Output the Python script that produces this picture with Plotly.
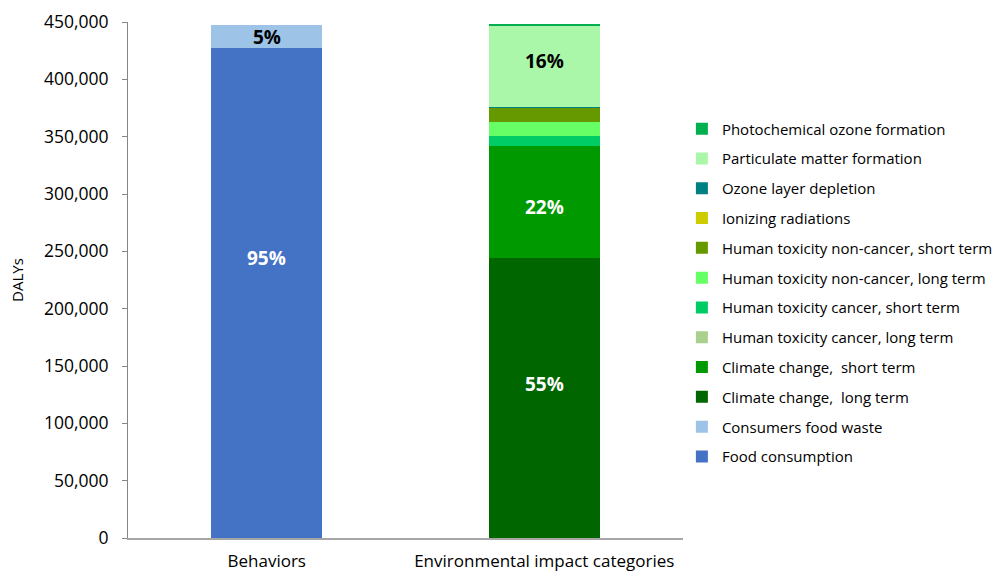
import plotly.graph_objects as go

categories = ["Behaviors", "Environmental impact categories"]

series_names = [
    "Food consumption",
    "Consumers food waste",
    "Climate change,  long term",
    "Climate change,  short term",
    "Human toxicity cancer, long term",
    "Human toxicity cancer, short term",
    "Human toxicity non-cancer, long term",
    "Human toxicity non-cancer, short term",
    "Ionizing radiations",
    "Ozone layer depletion",
    "Particulate matter formation",
    "Photochemical ozone formation",
]
series_category = [0, 0, 1, 1, 1, 1, 1, 1, 1, 1, 1, 1]
series_values = [427000, 20300, 244000, 98000, 150, 8700, 12200, 12200, 150, 800, 70500, 1000]
series_labels = ["95%", "5%", "55%", "22%", "", "", "", "", "", "", "16%", ""]
label_colors = ["white", "black", "white", "white", "white", "white", "white", "white", "white", "white", "black", "white"]
series_colors = ["#4472C4", "#9DC3E6", "#006600", "#009900", "#A9D08E", "#00CC66",
                 "#66FF66", "#669900", "#CCCC00", "#008080", "#AAF7AA", "#00B050"]
# vertical pixel nudges of the percentage labels (style only)
label_yshift = [35, 0, 14, -5, 0, 0, 0, 0, 0, 0, 5, 0]

y_ticks = [0, 50000, 100000, 150000, 200000, 250000, 300000, 350000, 400000, 450000]

FONT = "Open Sans"
n = len(series_names)

fig = go.Figure()
base = {0: 0.0, 1: 0.0}
for i, name in enumerate(series_names):
    c = series_category[i]
    fig.add_trace(go.Bar(
        name=name,
        x=[categories[c]],
        y=[series_values[i]],
        marker=dict(color=series_colors[i], line=dict(width=0)),
        width=0.4,
        legendgroup=f"g{i}",
        legendrank=n - i,
        hoverinfo="name+y",
    ))
    if series_labels[i]:
        fig.add_annotation(
            x=categories[c], y=base[c] + series_values[i] / 2,
            text=f"<b>{series_labels[i]}</b>", showarrow=False,
            yshift=label_yshift[i],
            font=dict(family=FONT, size=19, color=label_colors[i]),
        )
    base[c] += series_values[i]

fig.update_layout(
    barmode="stack",
    bargap=0.6,
    width=995, height=572,
    margin=dict(l=128, r=312, t=22, b=34, autoexpand=False),
    paper_bgcolor="white", plot_bgcolor="white",
    font=dict(family=FONT, size=16, color="black"),
    showlegend=True,
    legend=dict(
        traceorder="grouped",
        x=0.998, xanchor="left",
        y=0.475, yanchor="middle",
        font=dict(family=FONT, size=15, color="black"),
        tracegroupgap=7.3,
        itemwidth=30,
        bgcolor="rgba(0,0,0,0)",
    ),
    yaxis=dict(
        range=[0, 450000],
        tickvals=y_ticks,
        tickformat=",",
        automargin=False,
        showgrid=False,
        showline=True, linecolor="#868686", linewidth=1,
        ticks="outside", ticklen=5, tickcolor="#868686",
        ticklabelstandoff=10,
        tickfont=dict(family=FONT, size=17.5),
        title=dict(text="DALYs", font=dict(family=FONT, size=15), standoff=16),
        zeroline=False,
    ),
    xaxis=dict(
        automargin=False,
        showgrid=False,
        showline=True, linecolor="#A6A6A6", linewidth=2,
        ticks="outside", ticklen=7, tickcolor="rgba(0,0,0,0)",
        tickfont=dict(family=FONT, size=17),
    ),
)

fig.write_html("out.html")
